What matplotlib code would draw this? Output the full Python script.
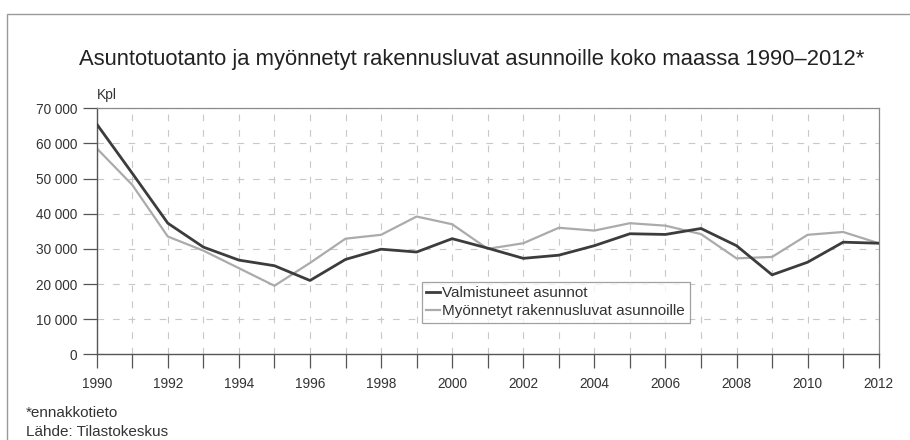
import matplotlib.pyplot as plt
from matplotlib.patches import Rectangle
from matplotlib.ticker import FuncFormatter, MultipleLocator

plt.rcParams["font.family"] = ["Liberation Sans", "DejaVu Sans"]

years = list(range(1990, 2013))
valmistuneet = [
    65500, 51500, 37300, 30500, 26800, 25200, 21000, 27000, 29900, 29100,
    32900, 30200, 27300, 28200, 30900, 34300, 34100, 35800, 30900, 22600,
    26200, 31900, 31600,
]
myonnetyt = [
    58600, 48200, 33500, 29500, 24500, 19500, 26000, 32900, 34000, 39200,
    37000, 30000, 31600, 36000, 35200, 37300, 36600, 34200, 27300, 27700,
    34000, 34800, 31600,
]
title = "Asuntotuotanto ja myönnetyt rakennusluvat asunnoille koko maassa 1990–2012*"
labels = ["Valmistuneet asunnot", "Myönnetyt rakennusluvat asunnoille"]

fig = plt.figure(figsize=(9.1, 4.4), dpi=100)
ax = fig.add_axes([0.1063, 0.1948, 0.8593, 0.5591])

# outer frame, open at right and bottom
fig.patches.append(Rectangle((7 / 910, -0.1), 1.2, 1.1 - 14 / 440,
                             transform=fig.transFigure, fill=False,
                             edgecolor="#9a9a9a", linewidth=1.0))

ax.plot(years, valmistuneet, color="#3c3c3c", linewidth=2.0, label=labels[0], zorder=3)
ax.plot(years, myonnetyt, color="#ababab", linewidth=1.6, label=labels[1], zorder=2)

ax.set_xlim(1990, 2012)
ax.set_ylim(0, 70000)
ax.xaxis.set_major_locator(MultipleLocator(1))
ax.yaxis.set_major_locator(MultipleLocator(10000))
ax.xaxis.set_major_formatter(FuncFormatter(lambda v, p: str(int(v)) if int(v) % 2 == 0 else ""))
ax.yaxis.set_major_formatter(FuncFormatter(lambda v, p: f"{int(v):,}".replace(",", " ")))

ax.grid(True, color="#c8c8c8", linestyle=(0, (6, 8)), linewidth=0.8)
ax.set_axisbelow(True)

for side in ["top", "right"]:
    ax.spines[side].set_color("#8a8a8a")
    ax.spines[side].set_linewidth(0.9)
for side in ["left", "bottom"]:
    ax.spines[side].set_color("#555555")
    ax.spines[side].set_linewidth(1.0)

ax.tick_params(axis="both", direction="out", length=10, width=0.9, color="#555555",
               labelsize=9.8, labelcolor="#333333")
ax.tick_params(axis="x", pad=6)
ax.tick_params(axis="y", pad=4)

leg = ax.legend(loc="upper left", bbox_to_anchor=(0.4156, 0.295), fontsize=11,
                frameon=True, fancybox=False, handlelength=0.9, handletextpad=0.15,
                borderpad=0.3, labelspacing=0.25, borderaxespad=0)
leg.get_frame().set_edgecolor("#8a8a8a")
leg.get_frame().set_linewidth(0.9)
for t in leg.get_texts():
    t.set_color("#333333")

fig.text(472 / 910, 1 - 59 / 440, title, ha="center", va="center",
         fontsize=15.8, color="#222222")
fig.text(97 / 910, 1 - 95 / 440, "Kpl", ha="left", va="center",
         fontsize=10, color="#333333")
fig.text(26 / 910, 1 - 413 / 440, "*ennakkotieto", ha="left", va="center",
         fontsize=11, color="#333333")
fig.text(26 / 910, 1 - 432 / 440, "Lähde: Tilastokeskus", ha="left", va="center",
         fontsize=11, color="#333333")

fig.savefig("out.png", dpi=100)
